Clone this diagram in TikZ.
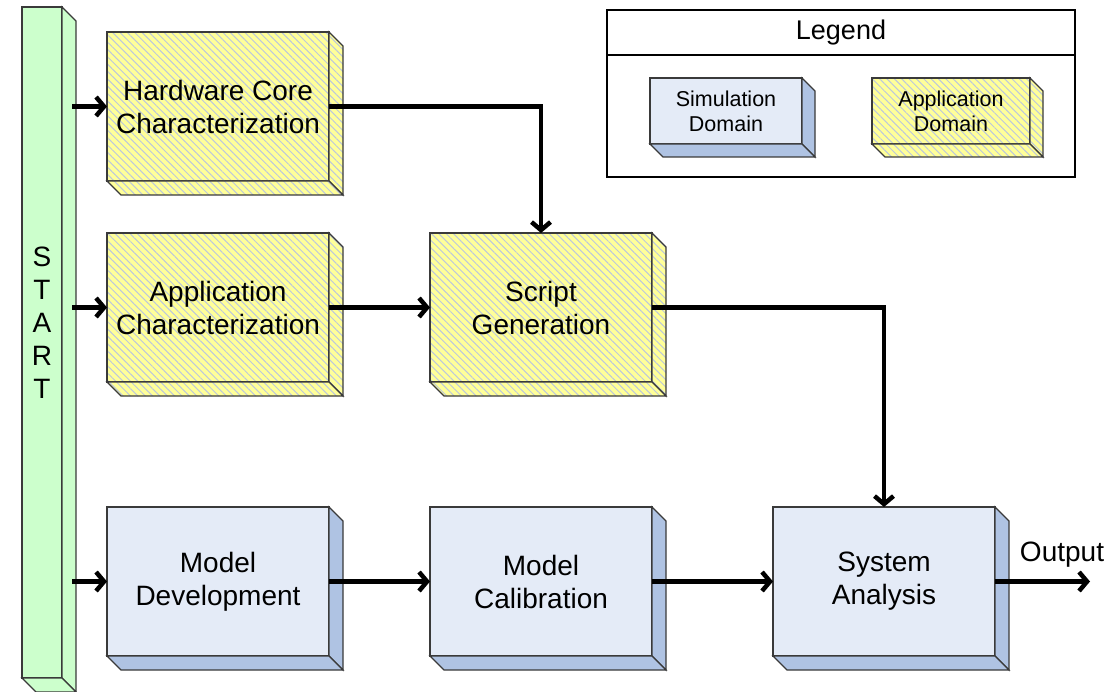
\documentclass[tikz,border=0pt]{standalone}
\usepackage{fontspec}
\setmainfont{Liberation Sans}
\usetikzlibrary{arrows.meta,patterns.meta,calc}

\definecolor{appyellow}{HTML}{FFFF99}
\definecolor{hatch}{HTML}{BCC7DC}
\definecolor{simfront}{HTML}{E4EBF7}
\definecolor{simdepth}{HTML}{AFC3E3}
\definecolor{startgreen}{HTML}{CCFFCC}
\definecolor{edgegrey}{HTML}{3A3A3A}

\tikzset{
  face/.style={draw=edgegrey, line width=1.2pt},
  appface/.style={face, preaction={fill=appyellow},
    pattern={Lines[angle=-45,distance=5.2pt,line width=1pt]}, pattern color=hatch},
  simface/.style={face, fill=simfront},
  simdepthface/.style={face, fill=simdepth},
  startface/.style={face, fill=startgreen},
  block/.style={minimum width=222pt, minimum height=149pt, inner sep=0pt, outer sep=0pt,
    align=center, font=\fontsize{28}{33}\selectfont},
  legblock/.style={minimum height=66pt, inner sep=0pt, outer sep=0pt,
    align=center, font=\fontsize{21.5}{25}\selectfont},
  flow/.style={line width=4.5pt, -{Straight Barb[length=8pt,width=19pt]}},
}

% right and bottom faces of an extruded block: node, face style, depth
\newcommand\depthfaces[3]{%
  \draw[#2] (#1.north east) -- ++(#3,#3) -- ($(#1.south east)+(#3,#3)$) -- (#1.south east) -- cycle;
  \draw[#2] (#1.south west) -- ++(#3,#3) -- ($(#1.south east)+(#3,#3)$) -- (#1.south east) -- cycle;
}

\begin{document}
\begin{tikzpicture}[x=1pt,y=-1pt]
\useasboundingbox (0,0) rectangle (1108,692);

% start bar
\node[startface, minimum width=40pt, minimum height=671pt, inner sep=0pt, outer sep=0pt] (start) at (42,342.5) {};
\depthfaces{start}{startface}{14}
\node[align=center, font=\fontsize{28}{33}\selectfont] (startlbl) at (42,323) {S\\T\\A\\R\\T};

% application domain blocks
\node[block, appface] (hw) at (218,106.5) {Hardware Core\\Characterization};
\depthfaces{hw}{appface}{14}
\node[block, appface] (ac) at (218,307.5) {Application\\Characterization};
\depthfaces{ac}{appface}{14}
\node[block, appface] (sg) at (541,307.5) {Script\\Generation};
\depthfaces{sg}{appface}{14}

% simulation domain blocks
\node[block, simface] (md) at (218,581.5) {Model\\Development};
\depthfaces{md}{simdepthface}{14}
\node[block, simface] (mc) at (541,581.5) {Model\\Calibration};
\depthfaces{mc}{simdepthface}{14}
\node[block, simface] (sa) at (884,581.5) {System\\Analysis};
\depthfaces{sa}{simdepthface}{14}

% legend
\node[draw=black, line width=1.2pt, minimum width=468pt, minimum height=167pt, inner sep=0pt, outer sep=0pt] (legend) at (841,93.5) {};
\coordinate (divl) at (607,55);
\coordinate (divr) at (1075,55);
\draw[line width=1.2pt] (divl) -- (divr);
\node[font=\fontsize{27}{30}\selectfont] (legtitle) at (841,32.5) {Legend};
\node[legblock, simface, minimum width=152pt] (legsim) at (726,111) {Simulation\\Domain};
\depthfaces{legsim}{simdepthface}{13}
\node[legblock, appface, minimum width=158pt] (legapp) at (951,111) {Application\\Domain};
\depthfaces{legapp}{appface}{13}

% flow
\draw[flow] ([xshift=10pt]start.east |- hw.west) -- (hw.west);
\draw[flow] ([xshift=10pt]start.east |- ac.west) -- (ac.west);
\draw[flow] ([xshift=10pt]start.east |- md.west) -- (md.west);
\draw[flow] (hw.east) -| (sg.north);
\draw[flow] (ac.east) -- (sg.west);
\draw[flow] (sg.east) -| (sa.north);
\draw[flow] (md.east) -- (mc.west);
\draw[flow] (mc.east) -- (sa.west);
\coordinate (out) at (1090,581.5);
\draw[flow] (sa.east) -- (out);
\node[font=\fontsize{28}{33}\selectfont] (outlbl) at (1062,555) {Output};
\end{tikzpicture}
\end{document}
